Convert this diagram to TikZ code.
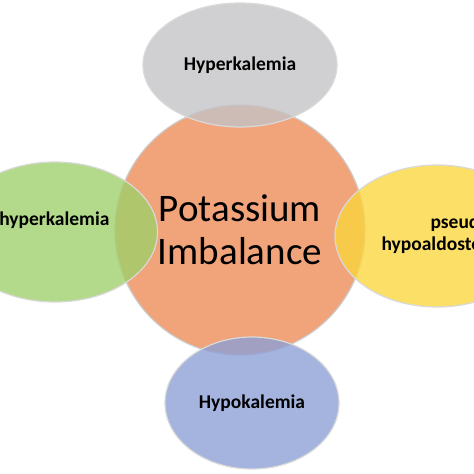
\documentclass[tikz,border=0pt]{standalone}
\usepackage{fontspec}
\setmainfont{Carlito}
\usepackage{tikz}
\usetikzlibrary{shapes.geometric}
\definecolor{potorange}{RGB}{241,163,122}
\definecolor{hypergray}{RGB}{196,196,198}
\definecolor{hypogreen}{RGB}{158,208,106}
\definecolor{pseudoyellow}{RGB}{250,214,60}
\definecolor{hypoblue}{RGB}{140,160,215}
\tikzset{
  hubcircle/.style={circle, draw=white!80!black, line width=1.2pt, fill=potorange, minimum size=250pt, inner sep=0pt, align=center, font=\fontsize{39}{43}\selectfont},
  leaf/.style={ellipse, draw=white!85!black, line width=1.2pt, fill opacity=0.78, text opacity=1, inner sep=0pt, align=center, font=\fontsize{19.5}{22}\selectfont\bfseries}
}

\begin{document}
\begin{tikzpicture}[x=1pt, y=-1pt]
  \useasboundingbox (0,0) rectangle (474,474);
  \clip (0,0) rectangle (474,474);
  \fill[white] (0,0) rectangle (474,474);
  \node[hubcircle] (hub) at (240,230) {Potassium\\Imbalance};
  % satellites, drawn over the hub
  \node[leaf, fill=hypergray, minimum width=194pt, minimum height=124pt] (hyper) at (240,65) {Hyperkalemia};
  \node[leaf, fill=hypoblue, minimum width=174pt, minimum height=132pt] (hypo) at (252,403) {Hypokalemia};
  \node[leaf, fill=hypogreen, minimum width=205pt, minimum height=140pt] (pseudohyper) at (55,232) {};
  \node[leaf, fill=pseudoyellow, minimum width=204pt, minimum height=142pt] (pseudohypo) at (437,236) {};
  \node[font=\fontsize{19.5}{22}\selectfont\bfseries, anchor=east] (pseudohypertext) at (113,220) {Pseudohyperkalemia};
  \node[font=\fontsize{19.5}{22}\selectfont\bfseries, anchor=west, align=left] (pseudohypotext) at (378,234) {\hspace*{49pt}pseudo-\\hypoaldosteronism};
\end{tikzpicture}
\end{document}
